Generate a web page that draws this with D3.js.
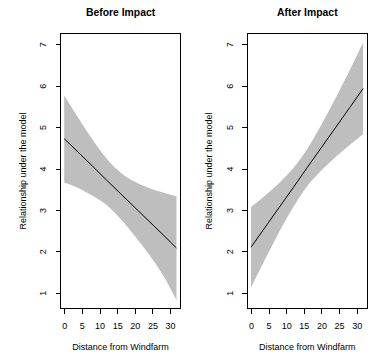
<!DOCTYPE html>
<html>
<head>
<meta charset="utf-8">
<script src="https://cdn.jsdelivr.net/npm/d3@7/dist/d3.min.js"></script>
<style>
html,body{margin:0;padding:0;background:#fff;}
svg{display:block;font-family:"Liberation Sans",Arial,Helvetica,sans-serif;}
</style>
</head>
<body>
<svg id="chart" width="369" height="356"></svg>
<script>
// ---- data ----
const panelTitles = ["Before Impact", "After Impact"];
const distance = [0, 4, 8, 12, 16, 20, 24, 28, 31.8];
const beforeFit   = [4.72, 4.39, 4.06, 3.72, 3.39, 3.06, 2.73, 2.40, 2.08];
const beforeUpper = [5.76, 5.22, 4.70, 4.24, 3.90, 3.68, 3.53, 3.42, 3.33];
const beforeLower = [3.66, 3.53, 3.34, 3.12, 2.78, 2.37, 1.93, 1.42, 0.82];
const afterFit    = [2.10, 2.58, 3.06, 3.54, 4.03, 4.51, 4.99, 5.47, 5.93];
const afterUpper  = [3.07, 3.35, 3.65, 4.01, 4.48, 5.06, 5.70, 6.37, 7.04];
const afterLower  = [1.13, 1.81, 2.47, 3.07, 3.58, 3.96, 4.28, 4.57, 4.83];
const xTicks = [0, 5, 10, 15, 20, 25, 30];
const yTicks = [1, 2, 3, 4, 5, 6, 7];
const xLabel = "Distance from Windfarm";
const yLabel = "Relationship under the model";

const panels = [
  {title: panelTitles[0], fit: beforeFit, upper: beforeUpper, lower: beforeLower, x0: 60.5, x1: 180.7},
  {title: panelTitles[1], fit: afterFit,  upper: afterUpper,  lower: afterLower,  x0: 247.3, x1: 367.3}
];

const svg = d3.select("#chart");
const yTop = 33.5, yBot = 308.5;
const y = d3.scaleLinear().domain([0.62, 7.26]).range([yBot, yTop]);

panels.forEach(p => {
  const x = d3.scaleLinear().domain([-1.05, 33.0]).range([p.x0, p.x1]);
  const g = svg.append("g");
  const pts = distance.map((d, i) => ({x: d, f: p.fit[i], u: p.upper[i], l: p.lower[i]}));

  g.append("path")
    .datum(pts)
    .attr("fill", "#bebebe")
    .attr("d", d3.area().curve(d3.curveMonotoneX)
      .x(d => x(d.x)).y0(d => y(d.l)).y1(d => y(d.u)));

  g.append("path")
    .datum(pts)
    .attr("fill", "none")
    .attr("stroke", "#000")
    .attr("stroke-width", 1)
    .attr("d", d3.line().curve(d3.curveMonotoneX).x(d => x(d.x)).y(d => y(d.f)));

  // box
  g.append("rect")
    .attr("x", p.x0).attr("y", yTop)
    .attr("width", p.x1 - p.x0).attr("height", yBot - yTop)
    .attr("fill", "none").attr("stroke", "#000").attr("stroke-width", 1)
    .attr("shape-rendering", "crispEdges");

  // x axis
  const xAxis = d3.axisBottom(x).tickValues(xTicks).tickSize(5).tickPadding(9).tickFormat(d3.format("d"));
  const gx = g.append("g").attr("transform", `translate(0,${yBot})`).call(xAxis);
  gx.select(".domain").attr("d", `M${x(xTicks[0])},0H${x(xTicks[xTicks.length-1])}`).attr("shape-rendering", "crispEdges");
  gx.selectAll(".tick line").attr("shape-rendering", "crispEdges");
  gx.selectAll("text").attr("font-size", 9).attr("font-family", "Liberation Sans, Arial, sans-serif").attr("fill", "#000");

  // y axis
  const yAxis = d3.axisLeft(y).tickValues(yTicks).tickSize(5).tickFormat(d3.format("d"));
  const gy = g.append("g").attr("transform", `translate(${p.x0},0)`).call(yAxis);
  gy.select(".domain").attr("d", `M0,${y(yTicks[0])}V${y(yTicks[yTicks.length-1])}`).attr("shape-rendering", "crispEdges");
  gy.selectAll(".tick line").attr("shape-rendering", "crispEdges");
  gy.selectAll(".tick text")
    .attr("x", null).attr("dy", null)
    .attr("text-anchor", "middle")
    .attr("transform", "translate(-14.5,0) rotate(-90)")
    .attr("font-size", 9).attr("font-family", "Liberation Sans, Arial, sans-serif").attr("fill", "#000");

  // title
  g.append("text")
    .attr("x", (p.x0 + p.x1) / 2).attr("y", 16)
    .attr("text-anchor", "middle")
    .attr("font-weight", "bold").attr("font-size", 10.4)
    .text(p.title);

  // x label
  g.append("text")
    .attr("x", (p.x0 + p.x1) / 2).attr("y", 350)
    .attr("text-anchor", "middle").attr("font-size", 9)
    .text(xLabel);

  // y label
  g.append("text")
    .attr("transform", `translate(${p.x0 - 35},${(yTop + yBot) / 2}) rotate(-90)`)
    .attr("text-anchor", "middle").attr("font-size", 9)
    .text(yLabel);
});
</script>
</body>
</html>
